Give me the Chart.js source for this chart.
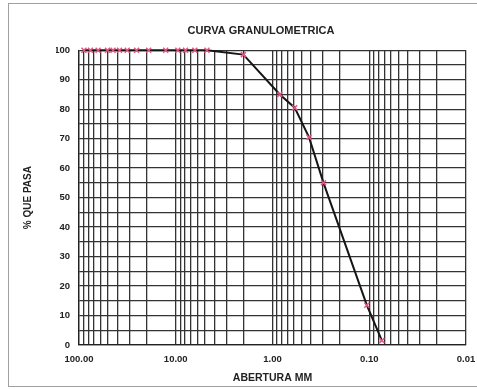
<!DOCTYPE html>
<html>
<head>
<meta charset="utf-8">
<script src="https://cdn.jsdelivr.net/npm/chart.js@4.4.1/dist/chart.umd.min.js"></script>
<style>
  body { margin: 0; background: #fff; }
  #wrap { width: 477px; height: 389px; }
</style>
</head>
<body>
<div id="wrap"><canvas id="myChart" width="477" height="389"></canvas></div>
<script>
// abertura del tamiz (mm) y % que pasa
const aberturas = [88.9, 76.2, 63.5, 50.8, 44.45, 38.1, 31.75, 25.4, 19.05, 12.7, 9.525, 7.93, 6.35, 4.76, 2.0, 0.84, 0.59, 0.42, 0.297, 0.106, 0.074];
const pasa = [100, 100, 100, 100, 100, 100, 100, 100, 100, 100, 100, 100, 100, 100, 98.5, 85, 80.5, 70.5, 55, 13.5, 1.5];

const decadas = [0.01, 0.1, 1, 10];
const multiplos = [1, 2, 3, 4, 5, 6, 7, 8, 9];
const xTicks = [];
decadas.forEach(d => multiplos.forEach(m => xTicks.push(Number((d * m).toPrecision(3)))));
xTicks.push(100);

const puntos = aberturas.map((a, i) => ({ x: a, y: pasa[i] }));

const txt = '#222';
const gridCol = '#333';

const frame = {
  id: 'frame',
  beforeDraw(chart) {
    const c = chart.ctx;
    c.save();
    c.fillStyle = '#fff';
    c.fillRect(0, 0, chart.width, chart.height);
    c.strokeStyle = '#a0a0a0';
    c.lineWidth = 1;
    c.strokeRect(8.5, 3.5, 470, 383);
    c.restore();
  }
};

const ctx = document.getElementById('myChart');
new Chart(ctx, {
  type: 'line',
  data: {
    datasets: [{
      data: puntos,
      borderColor: '#151515',
      borderWidth: 2,
      tension: 0,
      clip: false,
      pointStyle: 'crossRot',
      pointRadius: 3.5,
      pointBorderColor: '#e4557f',
      pointBorderWidth: 1.5,
      pointBackgroundColor: '#e4557f'
    }]
  },
  options: {
    responsive: false,
    animation: false,
    layout: { padding: { left: 56, right: 11, top: 0, bottom: 0 } },
    plugins: {
      legend: { display: false },
      tooltip: { enabled: false },
      title: {
        display: true,
        text: 'CURVA GRANULOMETRICA',
        color: txt,
        font: { family: 'Liberation Sans', size: 11, weight: 'bold' },
        padding: { top: 24, bottom: 13 }
      }
    },
    scales: {
      x: {
        type: 'logarithmic',
        reverse: true,
        min: 0.01,
        max: 100,
        afterBuildTicks: s => { s.ticks = xTicks.map(v => ({ value: v })); },
        afterFit: s => { s.height = 44; },
        ticks: {
          autoSkip: false,
          maxRotation: 0,
          padding: 9,
          color: txt,
          font: { family: 'Liberation Sans', size: 9.5, weight: 'bold' },
          callback: v => {
            const l = Math.log10(v);
            return Math.abs(l - Math.round(l)) < 1e-9 ? v.toFixed(2) : '';
          }
        },
        grid: { color: gridCol, lineWidth: 1.3, drawTicks: false },
        border: { color: '#222', width: 1.3 },
        title: {
          display: true,
          text: 'ABERTURA MM',
          color: txt,
          font: { family: 'Liberation Sans', size: 10.5, weight: 'bold' },
          padding: { top: 0, bottom: 5 }
        }
      },
      y: {
        min: 0,
        max: 100,
        afterFit: s => { s.width = 23; },
        ticks: {
          stepSize: 5,
          padding: 9,
          color: txt,
          font: { family: 'Liberation Sans', size: 9.5, weight: 'bold' },
          callback: v => (v % 10 === 0 ? v : '')
        },
        grid: { color: gridCol, lineWidth: 1.3, drawTicks: false },
        border: { color: '#222', width: 1.3 },
        title: {
          display: true,
          text: '% QUE PASA',
          color: txt,
          font: { family: 'Liberation Sans', size: 10, weight: 'bold' },
          padding: { top: -34, bottom: 0 }
        }
      }
    }
  },
  plugins: [frame]
});
</script>
</body>
</html>
